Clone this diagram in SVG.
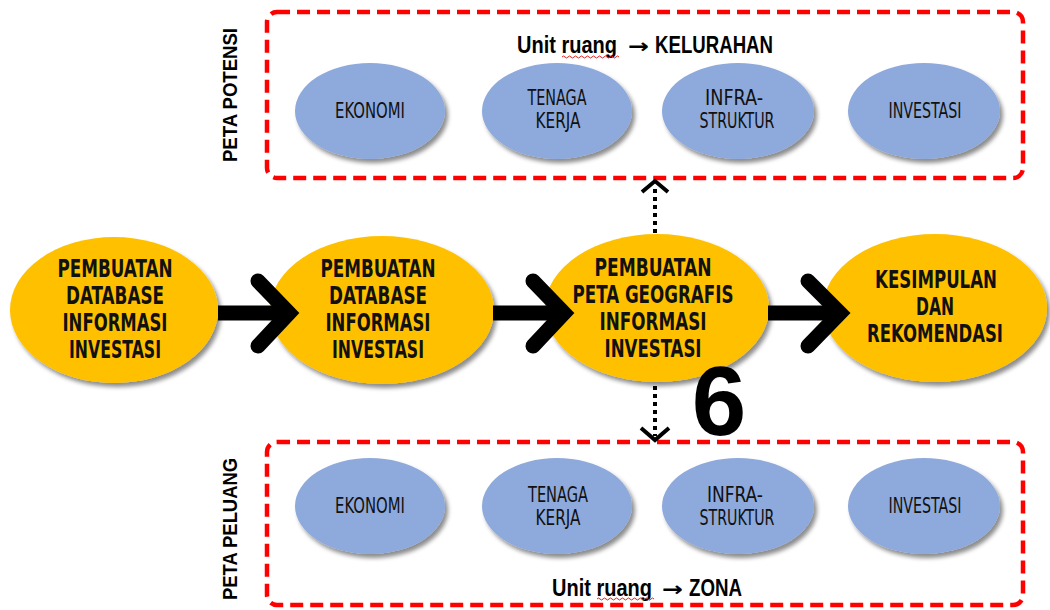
<svg xmlns="http://www.w3.org/2000/svg" width="1050" height="610" viewBox="0 0 1050 610">
  <defs>
    <filter id="sh" x="-20%" y="-20%" width="150%" height="150%">
      <feDropShadow dx="3" dy="4" stdDeviation="2.2" flood-color="#000" flood-opacity="0.45"/>
    </filter>
    <style>
      .frame { fill: none; stroke: #FF0000; stroke-width: 4.5; stroke-dasharray: 13 7; }
      .yel { fill: #FFC000; filter: url(#sh); }
      .blu { fill: #8EA9DB; filter: url(#sh); }
      .yt { font-family: "Liberation Sans Narrow", "DejaVu Sans Condensed", "Liberation Sans", sans-serif; font-weight: bold; font-size: 24px; fill: #111; text-anchor: middle; }
      .bt { font-family: "Liberation Sans Narrow", "DejaVu Sans Condensed", "Liberation Sans", sans-serif; font-size: 22px; fill: #111; text-anchor: middle; }
      .unit { font-family: "Liberation Sans Narrow", "Liberation Sans", sans-serif; font-weight: bold; font-size: 23px; fill: #000; }
      .arr { font-family: "DejaVu Sans", sans-serif; font-weight: bold; font-size: 20px; }
      .side { font-family: "Liberation Sans", "DejaVu Sans", sans-serif; font-weight: bold; font-size: 20px; fill: #000; text-anchor: middle; }
      .big { stroke: #000; stroke-width: 15; fill: none; }
      .chev { stroke: #000; stroke-width: 15; fill: none; stroke-linecap: round; stroke-linejoin: miter; }
      .dot { stroke: #000; stroke-width: 4; stroke-dasharray: 4 4; fill: none; }
      .thin { stroke: #000; stroke-width: 4; fill: none; stroke-linejoin: miter; }
      .squig { stroke: #E02020; stroke-width: 1; fill: none; }
    </style>
  </defs>

  <!-- Frames -->
  <g id="frame-potensi">
    <rect class="frame" x="267" y="12" width="756" height="166" rx="10"/>
    <text class="side" transform="translate(237 95) rotate(-90)" textLength="134" lengthAdjust="spacingAndGlyphs">PETA POTENSI</text>
    <text class="unit" y="53"><tspan x="517" textLength="100" lengthAdjust="spacingAndGlyphs">Unit ruang</tspan><tspan class="arr" x="628" textLength="21" lengthAdjust="spacingAndGlyphs">→</tspan><tspan x="655" textLength="118" lengthAdjust="spacingAndGlyphs">KELURAHAN</tspan></text>
    <path class="squig" d="M562 57 q1.5 -2 3 0 t3 0 t3 0 t3 0 t3 0 t3 0 t3 0 t3 0 t3 0 t3 0 t3 0 t3 0 t3 0 t3 0 t3 0 t3 0 t3 0 t3 0 t3 0"/>
  </g>
  <g id="frame-peluang">
    <rect class="frame" x="267" y="442" width="756" height="163" rx="10"/>
    <text class="side" transform="translate(237 529) rotate(-90)" textLength="142" lengthAdjust="spacingAndGlyphs">PETA PELUANG</text>
    <text class="unit" y="596"><tspan x="552" textLength="100" lengthAdjust="spacingAndGlyphs">Unit ruang</tspan><tspan class="arr" x="662" textLength="21" lengthAdjust="spacingAndGlyphs">→</tspan><tspan x="689" textLength="53" lengthAdjust="spacingAndGlyphs">ZONA</tspan></text>
    <path class="squig" d="M597 599 q1.5 -2 3 0 t3 0 t3 0 t3 0 t3 0 t3 0 t3 0 t3 0 t3 0 t3 0 t3 0 t3 0 t3 0 t3 0 t3 0 t3 0 t3 0 t3 0 t3 0"/>
  </g>

  <!-- Main flow nodes -->
  <g id="node-db1">
    <ellipse class="yel" cx="114" cy="310" rx="104" ry="73"/>
    <text class="yt" x="115" y="277" textLength="115" lengthAdjust="spacingAndGlyphs">PEMBUATAN</text>
    <text class="yt" x="115" y="304" textLength="98" lengthAdjust="spacingAndGlyphs">DATABASE</text>
    <text class="yt" x="115" y="331" textLength="105" lengthAdjust="spacingAndGlyphs">INFORMASI</text>
    <text class="yt" x="115" y="358" textLength="92" lengthAdjust="spacingAndGlyphs">INVESTASI</text>
  </g>
  <g id="node-db2">
    <ellipse class="yel" cx="382" cy="310" rx="112" ry="74"/>
    <text class="yt" x="378" y="277" textLength="115" lengthAdjust="spacingAndGlyphs">PEMBUATAN</text>
    <text class="yt" x="378" y="304" textLength="98" lengthAdjust="spacingAndGlyphs">DATABASE</text>
    <text class="yt" x="378" y="331" textLength="105" lengthAdjust="spacingAndGlyphs">INFORMASI</text>
    <text class="yt" x="378" y="358" textLength="92" lengthAdjust="spacingAndGlyphs">INVESTASI</text>
  </g>
  <g id="node-peta">
    <ellipse class="yel" cx="657" cy="308" rx="112" ry="74"/>
    <text class="yt" x="653" y="276" textLength="117" lengthAdjust="spacingAndGlyphs">PEMBUATAN</text>
    <text class="yt" x="653" y="303" textLength="161" lengthAdjust="spacingAndGlyphs">PETA GEOGRAFIS</text>
    <text class="yt" x="653" y="330" textLength="107" lengthAdjust="spacingAndGlyphs">INFORMASI</text>
    <text class="yt" x="653" y="357" textLength="97" lengthAdjust="spacingAndGlyphs">INVESTASI</text>
  </g>
  <g id="node-kesimpulan">
    <ellipse class="yel" cx="935" cy="308" rx="112" ry="74"/>
    <text class="yt" x="936" y="288" textLength="122" lengthAdjust="spacingAndGlyphs">KESIMPULAN</text>
    <text class="yt" x="935" y="315" textLength="38" lengthAdjust="spacingAndGlyphs">DAN</text>
    <text class="yt" x="935" y="342" textLength="136" lengthAdjust="spacingAndGlyphs">REKOMENDASI</text>
  </g>

  <!-- Potensi nodes -->
  <g id="pot-ekonomi">
    <ellipse class="blu" cx="370" cy="111" rx="75" ry="48"/>
    <text class="bt" x="370" y="118" textLength="70" lengthAdjust="spacingAndGlyphs">EKONOMI</text>
  </g>
  <g id="pot-tenaga">
    <ellipse class="blu" cx="557" cy="111" rx="75" ry="48"/>
    <text class="bt" x="557" y="105" textLength="59" lengthAdjust="spacingAndGlyphs">TENAGA</text>
    <text class="bt" x="558" y="128" textLength="45" lengthAdjust="spacingAndGlyphs">KERJA</text>
  </g>
  <g id="pot-infra">
    <ellipse class="blu" cx="738" cy="111" rx="76" ry="48"/>
    <text class="bt" x="734" y="105" textLength="58" lengthAdjust="spacingAndGlyphs">INFRA-</text>
    <text class="bt" x="737" y="128" textLength="75" lengthAdjust="spacingAndGlyphs">STRUKTUR</text>
  </g>
  <g id="pot-investasi">
    <ellipse class="blu" cx="924" cy="111" rx="76" ry="48"/>
    <text class="bt" x="925" y="118" textLength="73" lengthAdjust="spacingAndGlyphs">INVESTASI</text>
  </g>

  <!-- Peluang nodes -->
  <g id="pel-ekonomi">
    <ellipse class="blu" cx="370" cy="506" rx="75" ry="48"/>
    <text class="bt" x="370" y="513" textLength="70" lengthAdjust="spacingAndGlyphs">EKONOMI</text>
  </g>
  <g id="pel-tenaga">
    <ellipse class="blu" cx="557" cy="506" rx="75" ry="48"/>
    <text class="bt" x="558" y="502" textLength="60" lengthAdjust="spacingAndGlyphs">TENAGA</text>
    <text class="bt" x="558" y="525" textLength="45" lengthAdjust="spacingAndGlyphs">KERJA</text>
  </g>
  <g id="pel-infra">
    <ellipse class="blu" cx="738" cy="506" rx="76" ry="48"/>
    <text class="bt" x="735" y="502" textLength="56" lengthAdjust="spacingAndGlyphs">INFRA-</text>
    <text class="bt" x="737" y="525" textLength="75" lengthAdjust="spacingAndGlyphs">STRUKTUR</text>
  </g>
  <g id="pel-investasi">
    <ellipse class="blu" cx="924" cy="506" rx="76" ry="48"/>
    <text class="bt" x="925" y="513" textLength="73" lengthAdjust="spacingAndGlyphs">INVESTASI</text>
  </g>

  <!-- Connectors -->
  <g id="connectors">
    <line class="big" x1="218" y1="313" x2="286" y2="313"/>
    <polyline class="chev" points="258,281 289,313 258,346"/>
    <line class="big" x1="493" y1="313" x2="561" y2="313"/>
    <polyline class="chev" points="533,281 564,313 533,346"/>
    <line class="big" x1="768" y1="313" x2="837" y2="313"/>
    <polyline class="chev" points="808,281 840,313 808,346"/>
    <line class="dot" x1="655" y1="233" x2="655" y2="188"/>
    <polyline class="thin" points="642,192 655,181 668,192"/>
    <line class="dot" x1="655" y1="386" x2="655" y2="436"/>
    <polyline class="thin" points="641,428 655,440 669,428"/>
  </g>

  <text x="719" y="435" font-family="Liberation Sans, Arial, sans-serif" font-weight="bold" font-size="98" text-anchor="middle" fill="#000">6</text>
</svg>
